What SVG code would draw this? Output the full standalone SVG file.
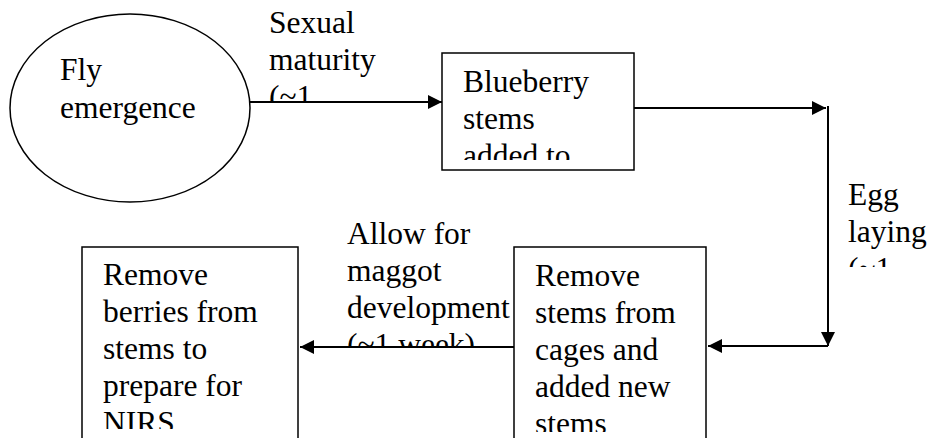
<svg xmlns="http://www.w3.org/2000/svg" width="932" height="438" viewBox="0 0 932 438">
  <style>
    .shape { fill: #ffffff; stroke: #000000; stroke-width: 1.5; }
    .lbl { font-family: "Liberation Serif", "Times New Roman", serif; font-size: 31.5px; fill: #000000; }
    .conn { stroke: #000000; stroke-width: 2; fill: none; marker-end: url(#ah); }
  </style>
  <defs>
    <marker id="ah" markerUnits="userSpaceOnUse" markerWidth="14" markerHeight="14" refX="14" refY="7" orient="auto">
      <path d="M0,0 L14,7 L0,14 z" fill="#000000"/>
    </marker>
    <clipPath id="cBlue"><rect x="442" y="53" width="192" height="107"/></clipPath>
    <clipPath id="cBerries"><rect x="82" y="247" width="216" height="182"/></clipPath>
    <clipPath id="cStems"><rect x="514" y="247" width="192" height="185"/></clipPath>
    <clipPath id="cSex"><rect x="262" y="0" width="160" height="101"/></clipPath>
    <clipPath id="cEgg"><rect x="840" y="170" width="92" height="97"/></clipPath>
    <clipPath id="cAllow"><rect x="340" y="210" width="175" height="136"/></clipPath>
  </defs>

  <g id="connectors">
    <line class="conn" x1="250" y1="102" x2="442" y2="102"/>
    <line class="conn" x1="634" y1="108" x2="826" y2="108"/>
    <line class="conn" x1="828" y1="106" x2="828" y2="346"/>
    <line class="conn" x1="828" y1="346" x2="708" y2="346"/>
    <line class="conn" x1="515" y1="347" x2="300" y2="347"/>
  </g>

  <g id="label-sexual" clip-path="url(#cSex)">
    <text class="lbl" x="269" y="33">Sexual</text>
    <text class="lbl" x="269" y="70">maturity</text>
    <text class="lbl" x="269" y="107">(~1</text>
  </g>
  <g id="label-egg" clip-path="url(#cEgg)">
    <text class="lbl" x="848" y="205">Egg</text>
    <text class="lbl" x="848" y="242">laying</text>
    <text class="lbl" x="848" y="279">(~1</text>
  </g>
  <g id="label-allow" clip-path="url(#cAllow)">
    <text class="lbl" x="347" y="244">Allow for</text>
    <text class="lbl" x="347" y="281">maggot</text>
    <text class="lbl" x="347" y="318">development</text>
    <text class="lbl" x="347" y="355">(~1 week)</text>
  </g>

  <g id="node-fly">
    <ellipse class="shape" cx="130" cy="108" rx="120" ry="94"/>
    <text class="lbl" x="60" y="80">Fly</text>
    <text class="lbl" x="60" y="118">emergence</text>
  </g>

  <g id="node-blueberry">
    <rect class="shape" x="442" y="53" width="192" height="117"/>
    <g clip-path="url(#cBlue)">
      <text class="lbl" x="463" y="92">Blueberry</text>
      <text class="lbl" x="463" y="129">stems</text>
      <text class="lbl" x="463" y="166">added to</text>
    </g>
  </g>

  <g id="node-remove-stems">
    <rect class="shape" x="514" y="247" width="192" height="200"/>
    <g clip-path="url(#cStems)">
      <text class="lbl" x="535" y="286">Remove</text>
      <text class="lbl" x="535" y="323">stems from</text>
      <text class="lbl" x="535" y="360">cages and</text>
      <text class="lbl" x="535" y="397">added new</text>
      <text class="lbl" x="535" y="434">stems</text>
    </g>
  </g>

  <g id="node-remove-berries">
    <rect class="shape" x="82" y="247" width="216" height="200"/>
    <g clip-path="url(#cBerries)">
      <text class="lbl" x="103" y="285">Remove</text>
      <text class="lbl" x="103" y="322">berries from</text>
      <text class="lbl" x="103" y="359">stems to</text>
      <text class="lbl" x="103" y="396">prepare for</text>
      <text class="lbl" x="103" y="433">NIRS</text>
    </g>
  </g>
</svg>
